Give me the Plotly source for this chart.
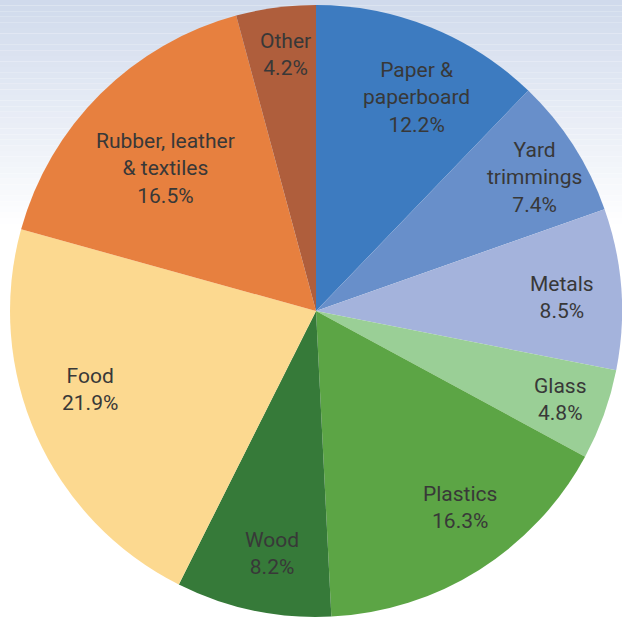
import math
import plotly.graph_objects as go

# Composition of municipal solid waste, by material (percent)
categories = ["Paper &<br>paperboard", "Yard<br>trimmings", "Metals", "Glass",
              "Plastics", "Wood", "Food", "Rubber, leather<br>& textiles", "Other"]
shares = [12.2, 7.4, 8.5, 4.8, 16.3, 8.2, 21.9, 16.5, 4.2]
colors = ["#3D7BC0", "#688FCA", "#A4B3DC", "#9ACF96", "#5CA545",
          "#367A39", "#FCD990", "#E7803F", "#AF5E3C"]

# label placement: distance from centre (fraction of radius) and a small
# angular nudge (degrees) away from each slice's bisector
label_radius = [0.772, 0.839, 0.805, 0.849, 0.797, 0.807, 0.782, 0.677, 0.843]
label_nudge = [3.1, 1.3, 1.1, 0.2, -4.0, -1.6, 4.7, -1.6, 0.7]

W, H = 622, 621
cx, cy, r = 316, 311, 306  # pie centre / radius in pixels

fig = go.Figure(go.Pie(
    labels=categories,
    values=shares,
    sort=False,
    direction="clockwise",
    rotation=0,
    marker=dict(colors=colors, line=dict(width=0)),
    textinfo="none",
    hoverinfo="skip",
    showlegend=False,
    domain=dict(x=[(cx - r) / W, min(1, (cx + r) / W)],
                y=[(H - cy - r) / H, (H - cy + r) / H]),
))

# labels placed around each slice's bisector, angles clockwise from 12 o'clock
total = sum(shares)
annotations = []
acc = 0.0
for name, v, f, nudge in zip(categories, shares, label_radius, label_nudge):
    mid = (acc + v / 2) / total * 2 * math.pi + math.radians(nudge)
    acc += v
    px = cx + f * r * math.sin(mid)
    py = cy - f * r * math.cos(mid)
    annotations.append(dict(
        x=px / W, y=1 - py / H, xref="paper", yref="paper",
        text="%s<br>%.1f%%" % (name, v), showarrow=False,
        xanchor="center", yanchor="middle", align="center",
        font=dict(family="Roboto, sans-serif", size=21, color="#383838"),
    ))

# soft blue wash fading down from the top edge
shapes = []
steps = 40
top_col = (208, 218, 236)
for i in range(steps):
    t = i / steps
    col = tuple(round(c + (255 - c) * t) for c in top_col)
    y1 = 1 - 0.36 * t
    y0 = 1 - 0.36 * (i + 1) / steps
    shapes.append(dict(type="rect", xref="paper", yref="paper", x0=0, x1=1,
                       y0=y0, y1=y1, line=dict(width=0),
                       fillcolor="rgb(%d,%d,%d)" % col, layer="below"))

fig.update_layout(
    width=W, height=H,
    margin=dict(l=0, r=0, t=0, b=0),
    paper_bgcolor="white",
    shapes=shapes,
    annotations=annotations,
)

fig.write_html("out.html")
